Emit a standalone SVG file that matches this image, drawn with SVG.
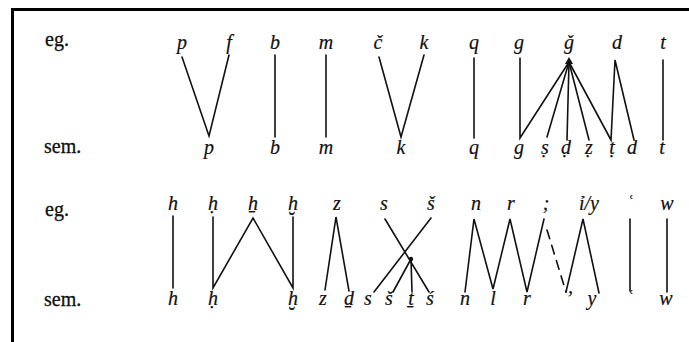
<svg xmlns="http://www.w3.org/2000/svg" width="689" height="342" viewBox="0 0 689 342">
<style>
.lbl{font-family:"Liberation Serif","DejaVu Serif",serif;font-size:20px;fill:#111;stroke:#111;stroke-width:0.3}
.ch{font-family:"Liberation Serif","DejaVu Serif",serif;font-style:italic;font-size:20px;fill:#111;text-anchor:middle;stroke:#111;stroke-width:0.2}
.ln{stroke:#111;stroke-width:1.6;fill:none;stroke-linecap:round;stroke-linejoin:miter}
.dash{stroke-dasharray:9 7}
.frame{stroke:#000;stroke-width:3;fill:none}
</style>
<rect width="689" height="342" fill="#fff"/>
<path class="frame" d="M12.5,342 V9.5 H689"/>
<g id="labels">
<text class="lbl" x="45" y="46">eg.</text>
<text class="lbl" x="44" y="153">sem.</text>
<text class="lbl" x="45" y="216">eg.</text>
<text class="lbl" x="44" y="306">sem.</text>
</g>
<g id="connectors">
<polyline class="ln" points="182,57 209,136 229,55"/>
<line class="ln" x1="275" y1="55" x2="275" y2="137"/>
<line class="ln" x1="326" y1="55" x2="326" y2="137"/>
<polyline class="ln" points="379,57 401,137 424,55"/>
<line class="ln" x1="474" y1="58" x2="474" y2="138"/>
<polyline class="ln" points="520,58 520,138 569,62"/>
<line class="ln" x1="569" y1="62" x2="547" y2="137"/>
<line class="ln" x1="569" y1="62" x2="567" y2="140"/>
<line class="ln" x1="569" y1="62" x2="589" y2="140"/>
<polyline class="ln" points="569,62 611,140 615,60 634,140"/>
<line class="ln" x1="663" y1="60" x2="663" y2="140"/>
<line class="ln" x1="173" y1="216" x2="173" y2="288"/>
<polyline class="ln" points="213,217 213,288 253,218 293,288 293,217"/>
<polyline class="ln" points="325,290 336,217 349,291"/>
<line class="ln" x1="385" y1="219" x2="429" y2="292"/>
<line class="ln" x1="431" y1="218" x2="374" y2="292"/>
<line class="ln" x1="411" y1="259" x2="393" y2="292"/>
<line class="ln" x1="411" y1="259" x2="412" y2="292"/>
<polyline class="ln" points="465,292 474,219 493,289 510,219 527,292 544,219"/>
<line class="ln dash" x1="547" y1="230" x2="566" y2="292"/>
<polyline class="ln" points="566,292 583,219 599,293"/>
<line class="ln" x1="630" y1="219" x2="630" y2="291"/>
<line class="ln" x1="667" y1="219" x2="667" y2="292"/>
<path d="M565,64 L573,64 L569,57 Z" fill="#111"/>
<circle cx="411" cy="259" r="2.2" fill="#111"/>
</g>
<g id="eg1">
<text class="ch" x="182" y="49">p</text>
<text class="ch" x="229" y="49">f</text>
<text class="ch" x="275" y="49">b</text>
<text class="ch" x="326" y="49">m</text>
<text class="ch" x="378" y="49">č</text>
<text class="ch" x="424" y="49">k</text>
<text class="ch" x="474" y="49">q</text>
<text class="ch" x="519" y="49">g</text>
<text class="ch" x="569" y="49">ǧ</text>
<text class="ch" x="617" y="49">d</text>
<text class="ch" x="663" y="49">t</text>
</g>
<g id="sem1">
<text class="ch" x="209" y="154">p</text>
<text class="ch" x="275" y="154">b</text>
<text class="ch" x="326" y="154">m</text>
<text class="ch" x="401" y="154">k</text>
<text class="ch" x="474" y="154">q</text>
<text class="ch" x="519" y="154">g</text>
<text class="ch" x="545" y="154">ṣ</text>
<text class="ch" x="566" y="154">ḍ</text>
<text class="ch" x="589" y="154">ẓ</text>
<text class="ch" x="612" y="154">ṭ</text>
<text class="ch" x="632" y="154">d</text>
<text class="ch" x="662" y="154">t</text>
</g>
<g id="eg2">
<text class="ch" x="173" y="210">h</text>
<text class="ch" x="213" y="210">ḥ</text>
<text class="ch" x="253" y="210">ẖ</text>
<text class="ch" x="293" y="210">ḫ</text>
<text class="ch" x="337" y="210">z</text>
<text class="ch" x="384" y="210">s</text>
<text class="ch" x="431" y="210">š</text>
<text class="ch" x="476" y="210">n</text>
<text class="ch" x="511" y="210">r</text>
<text class="ch" x="546" y="210">;</text>
<text class="ch" x="589" y="210">ỉ/y</text>
<text class="ch" x="630" y="210">ʿ</text>
<text class="ch" x="667" y="210">w</text>
</g>
<g id="sem2">
<text class="ch" x="173" y="305">h</text>
<text class="ch" x="213" y="305">ḥ</text>
<text class="ch" x="293" y="305">ḫ</text>
<text class="ch" x="323" y="305">z</text>
<text class="ch" x="349" y="305">ḏ</text>
<text class="ch" x="368" y="305">s</text>
<text class="ch" x="389" y="305">š</text>
<text class="ch" x="411" y="305">ṯ</text>
<text class="ch" x="430" y="305">ś</text>
<text class="ch" x="465" y="305">n</text>
<text class="ch" x="493" y="305">l</text>
<text class="ch" x="527" y="305">r</text>
<text class="ch" x="569" y="305">’</text>
<text class="ch" x="592" y="305">y</text>
<text class="ch" x="630" y="305">ʿ</text>
<text class="ch" x="666" y="305">w</text>
</g>
</svg>
